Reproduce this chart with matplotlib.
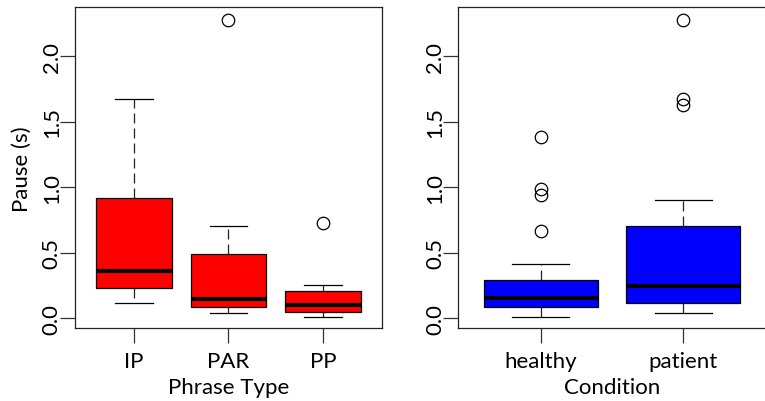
import matplotlib
matplotlib.use("Agg")
import matplotlib.pyplot as plt

plt.rcParams['font.family'] = ['Lato', 'DejaVu Sans']

# Panel 1: Phrase Type
phrase_types = ["IP", "PAR", "PP"]
phrase_whislo = [0.112, 0.038, 0.010]
phrase_q1 = [0.227, 0.087, 0.048]
phrase_med = [0.360, 0.143, 0.099]
phrase_q3 = [0.920, 0.487, 0.204]
phrase_whishi = [1.674, 0.706, 0.255]
phrase_fliers = [[], [2.28], [0.726]]

# Panel 2: Condition
conditions = ["healthy", "patient"]
cond_whislo = [0.008, 0.038]
cond_q1 = [0.082, 0.112]
cond_med = [0.150, 0.247]
cond_q3 = [0.290, 0.706]
cond_whishi = [0.413, 0.904]
cond_fliers = [[1.386, 0.986, 0.940, 0.665], [2.28, 1.674, 1.628]]

yticks = [0.0, 0.5, 1.0, 1.5, 2.0]
ytick_labels = ["0.0", "0.5", "1.0", "1.5", "2.0"]

W, H = 765, 402
fig = plt.figure(figsize=(W / 100, H / 100), dpi=100)

ax1 = fig.add_axes([75 / W, (H - 329.3) / H, (382 - 75) / W, (329.3 - 8.3) / H])
ax2 = fig.add_axes([458.3 / W, (H - 329.3) / H, (766 - 458.3) / W, (329.3 - 8.3) / H])

FS = 16


def draw(ax, labels, lo, q1, med, q3, hi, fl, color):
    stats = []
    for i in range(len(labels)):
        stats.append(dict(label=labels[i], whislo=lo[i], q1=q1[i], med=med[i],
                          q3=q3[i], whishi=hi[i], fliers=fl[i]))
    pos = list(range(1, len(labels) + 1))
    ax.bxp(stats, positions=pos, widths=0.8, patch_artist=True,
           boxprops=dict(facecolor=color, edgecolor='black', linewidth=0.9),
           medianprops=dict(color='black', linewidth=3.0, solid_capstyle='butt'),
           whiskerprops=dict(color='#222222', linewidth=0.9, linestyle=(0, (8, 4))),
           capprops=dict(color='black', linewidth=0.9),
           capwidths=0.4,
           flierprops=dict(marker='o', markerfacecolor='none', markeredgecolor='black',
                           markersize=9, markeredgewidth=0.9, linestyle='none'))
    n = len(labels)
    ext = n * 0.04
    ax.set_xlim(0.5 - ext, n + 0.5 + ext)
    ax.set_ylim(-0.0787, 2.3745)
    ax.set_xticks(pos)
    ax.set_xticklabels(labels, fontsize=FS)
    ax.set_yticks(yticks)
    ax.set_yticklabels(ytick_labels, fontsize=FS, rotation=90, va='center')
    ax.tick_params(axis='both', direction='out', length=10.5, width=0.9, color='#333333')
    ax.tick_params(axis='y', pad=-1)
    ax.tick_params(axis='x', pad=5.5)
    for s in ax.spines.values():
        s.set_linewidth(0.9)
        s.set_color('#222222')


draw(ax1, phrase_types, phrase_whislo, phrase_q1, phrase_med, phrase_q3,
     phrase_whishi, phrase_fliers, '#ff0000')
draw(ax2, conditions, cond_whislo, cond_q1, cond_med, cond_q3,
     cond_whishi, cond_fliers, '#0000ff')

ax1.set_xlabel("Phrase Type", fontsize=FS, labelpad=4.5)
ax1.set_ylabel("Pause (s)", fontsize=FS, labelpad=7)
ax2.set_xlabel("Condition", fontsize=FS, labelpad=4.5)

fig.savefig("out.png", dpi=100)
